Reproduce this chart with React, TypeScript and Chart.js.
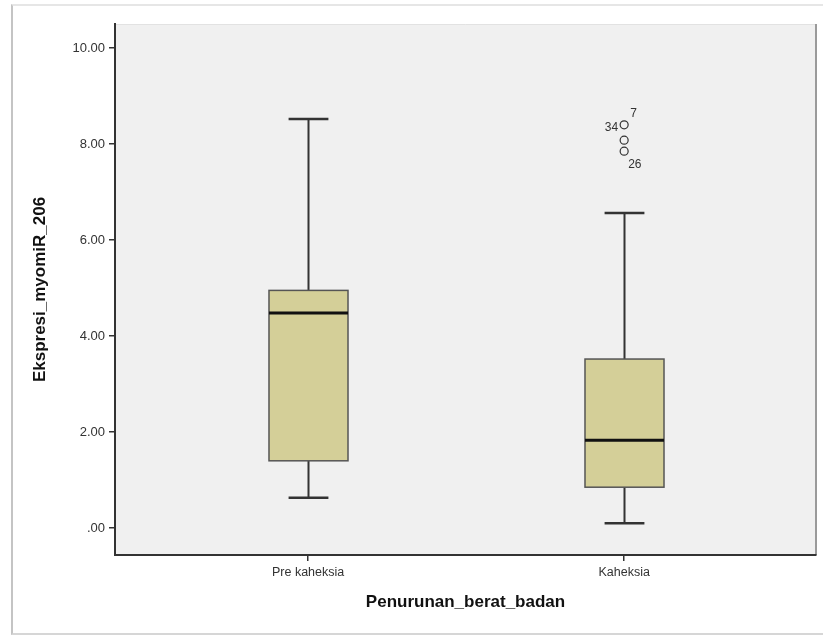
import React, { useEffect, useRef } from 'react';
import { Chart, registerables } from 'chart.js';
Chart.register(...registerables);

// ---- data ----
const categories = ['Pre kaheksia', 'Kaheksia'];
const whiskerLow = [0.63, 0.1];
const q1 = [1.4, 0.85];
const median = [4.48, 1.83];
const q3 = [4.95, 3.52];
const whiskerHigh = [8.52, 6.56];
const outlierGroup = [1, 1, 1];
const outlierValues = [8.4, 8.08, 7.85];
const outlierLabelText = ['34', '7', '26'];
const outlierLabelOf = [0, 0, 2];
const yTicks = [0, 2, 4, 6, 8, 10];
const yTitle = 'Ekspresi_myomiR_206';
const xTitle = 'Penurunan_berat_badan';

const fmt = (v: number) => {
  const s = v.toFixed(2);
  return s.startsWith('0') ? s.slice(1) : s;
};

const boxPlugin = {
  id: 'boxes',
  beforeDatasetsDraw(chart: any) {
    const { ctx, scales } = chart;
    const xs = scales.x;
    const ys = scales.y;
    const unit = xs.getPixelForValue(1) - xs.getPixelForValue(0);
    const boxHalf = unit * 0.125;
    const capHalf = unit * 0.063;
    ctx.save();
    categories.forEach((_, i) => {
      const cx = Math.round(xs.getPixelForValue(i)) + 0.5;
      const yLo = ys.getPixelForValue(whiskerLow[i]);
      const yQ1 = ys.getPixelForValue(q1[i]);
      const yMed = ys.getPixelForValue(median[i]);
      const yQ3 = ys.getPixelForValue(q3[i]);
      const yHi = ys.getPixelForValue(whiskerHigh[i]);
      ctx.strokeStyle = '#333333';
      ctx.lineWidth = 2;
      ctx.beginPath();
      ctx.moveTo(cx, yHi);
      ctx.lineTo(cx, yQ3);
      ctx.moveTo(cx, yQ1);
      ctx.lineTo(cx, yLo);
      ctx.stroke();
      ctx.lineWidth = 2.5;
      ctx.beginPath();
      ctx.moveTo(cx - capHalf, yHi);
      ctx.lineTo(cx + capHalf, yHi);
      ctx.moveTo(cx - capHalf, yLo);
      ctx.lineTo(cx + capHalf, yLo);
      ctx.stroke();
      ctx.fillStyle = '#d4cf98';
      ctx.fillRect(cx - boxHalf, yQ3, boxHalf * 2, yQ1 - yQ3);
      ctx.lineWidth = 1.5;
      ctx.strokeStyle = '#555555';
      ctx.strokeRect(cx - boxHalf, yQ3, boxHalf * 2, yQ1 - yQ3);
      ctx.strokeStyle = '#111111';
      ctx.lineWidth = 3;
      ctx.beginPath();
      ctx.moveTo(cx - boxHalf, yMed);
      ctx.lineTo(cx + boxHalf, yMed);
      ctx.stroke();
    });
    ctx.restore();
  },
  afterDatasetsDraw(chart: any) {
    const { ctx, scales } = chart;
    const xs = scales.x;
    const ys = scales.y;
    const offs = [
      { dx: -6, dy: 3, align: 'right' },
      { dx: 6, dy: -11, align: 'left' },
      { dx: 4, dy: 13, align: 'left' },
    ];
    ctx.save();
    ctx.font = '12px "Liberation Sans", Arial, sans-serif';
    ctx.fillStyle = '#333333';
    ctx.textBaseline = 'middle';
    outlierLabelText.forEach((t, k) => {
      const j = outlierLabelOf[k];
      const px = xs.getPixelForValue(outlierGroup[j]);
      const py = ys.getPixelForValue(outlierValues[j]);
      const o = offs[k];
      ctx.textAlign = o.align;
      ctx.fillText(t, px + o.dx, py + o.dy);
    });
    ctx.restore();
  },
};

const bgPlugin = {
  id: 'plotbg',
  beforeDraw(chart: any) {
    const { ctx, chartArea: a } = chart;
    ctx.save();
    ctx.fillStyle = '#f0f0f0';
    ctx.fillRect(a.left, a.top, a.right - a.left, a.bottom - a.top);
    ctx.strokeStyle = '#e2e2e2';
    ctx.lineWidth = 1;
    ctx.beginPath();
    ctx.moveTo(a.left, a.top + 0.5);
    ctx.lineTo(a.right, a.top + 0.5);
    ctx.stroke();
    ctx.strokeStyle = '#9a9a9a';
    ctx.lineWidth = 2;
    ctx.beginPath();
    ctx.moveTo(a.right, a.top);
    ctx.lineTo(a.right, a.bottom);
    ctx.stroke();
    ctx.restore();
  },
};

export default function App() {
  const ref = useRef<HTMLCanvasElement>(null);
  useEffect(() => {
    if (!ref.current) return;
    const chart = new Chart(ref.current, {
      type: 'scatter',
      data: {
        datasets: [
          {
            data: outlierValues.map((v, i) => ({ x: outlierGroup[i], y: v })),
            pointRadius: 4,
            pointBorderWidth: 1.2,
            pointBorderColor: '#333333',
            pointBackgroundColor: 'rgba(240,240,240,0)',
          },
        ],
      },
      options: {
        responsive: false,
        animation: false,
        layout: { padding: { left: 0, top: 24, right: 7, bottom: 0 } },
        plugins: { legend: { display: false }, tooltip: { enabled: false } },
        scales: {
          x: {
            type: 'linear',
            min: -0.611,
            max: 1.607,
            afterBuildTicks: (s: any) => {
              s.ticks = categories.map((_, i) => ({ value: i }));
            },
            afterFit: (s: any) => {
              s.height = 80;
            },
            ticks: {
              callback: (v: any) => categories[v as number] ?? '',
              font: { family: '"Liberation Sans", Arial, sans-serif', size: 12.5 },
              color: '#333333',
              padding: 4,
              maxRotation: 0,
            },
            grid: { drawOnChartArea: false, drawTicks: true, tickLength: 6, color: '#333333', lineWidth: 1.5 },
            border: { display: true, color: '#333333', width: 2 },
            title: {
              display: true,
              text: xTitle,
              font: { family: '"Liberation Sans", Arial, sans-serif', size: 17, weight: 'bold' },
              color: '#111111',
              padding: { top: 0, bottom: 22 },
            },
          },
          y: {
            type: 'linear',
            min: -0.5625,
            max: 10.5,
            afterBuildTicks: (s: any) => {
              s.ticks = yTicks.map((v) => ({ value: v }));
            },
            afterFit: (s: any) => {
              s.width = 115;
            },
            ticks: {
              callback: (v: any) => fmt(v as number),
              font: { family: '"Liberation Sans", Arial, sans-serif', size: 13 },
              color: '#333333',
              padding: 4,
            },
            grid: { drawOnChartArea: false, drawTicks: true, tickLength: 6, color: '#333333', lineWidth: 1.5 },
            border: { display: true, color: '#333333', width: 2 },
            title: {
              display: true,
              text: yTitle,
              font: { family: '"Liberation Sans", Arial, sans-serif', size: 17, weight: 'bold' },
              color: '#111111',
              padding: { top: 30, bottom: 0 },
            },
          },
        },
      },
      plugins: [bgPlugin, boxPlugin],
    });
    return () => chart.destroy();
  }, []);

  return (
    <div style={{ position: 'fixed', left: 0, top: 0, width: 823, height: 635, background: '#ffffff' }}>
      <div
        style={{
          position: 'absolute',
          left: 11,
          top: 4,
          width: 830,
          height: 627,
          borderLeft: '2px solid #c4c4c4',
          borderTop: '2px solid #e6e6e6',
          borderBottom: '2px solid #d6d6d6',
          boxSizing: 'content-box',
        }}
      />
      <canvas ref={ref} width={823} height={635} style={{ position: 'absolute', left: 0, top: 0 }} />
    </div>
  );
}
